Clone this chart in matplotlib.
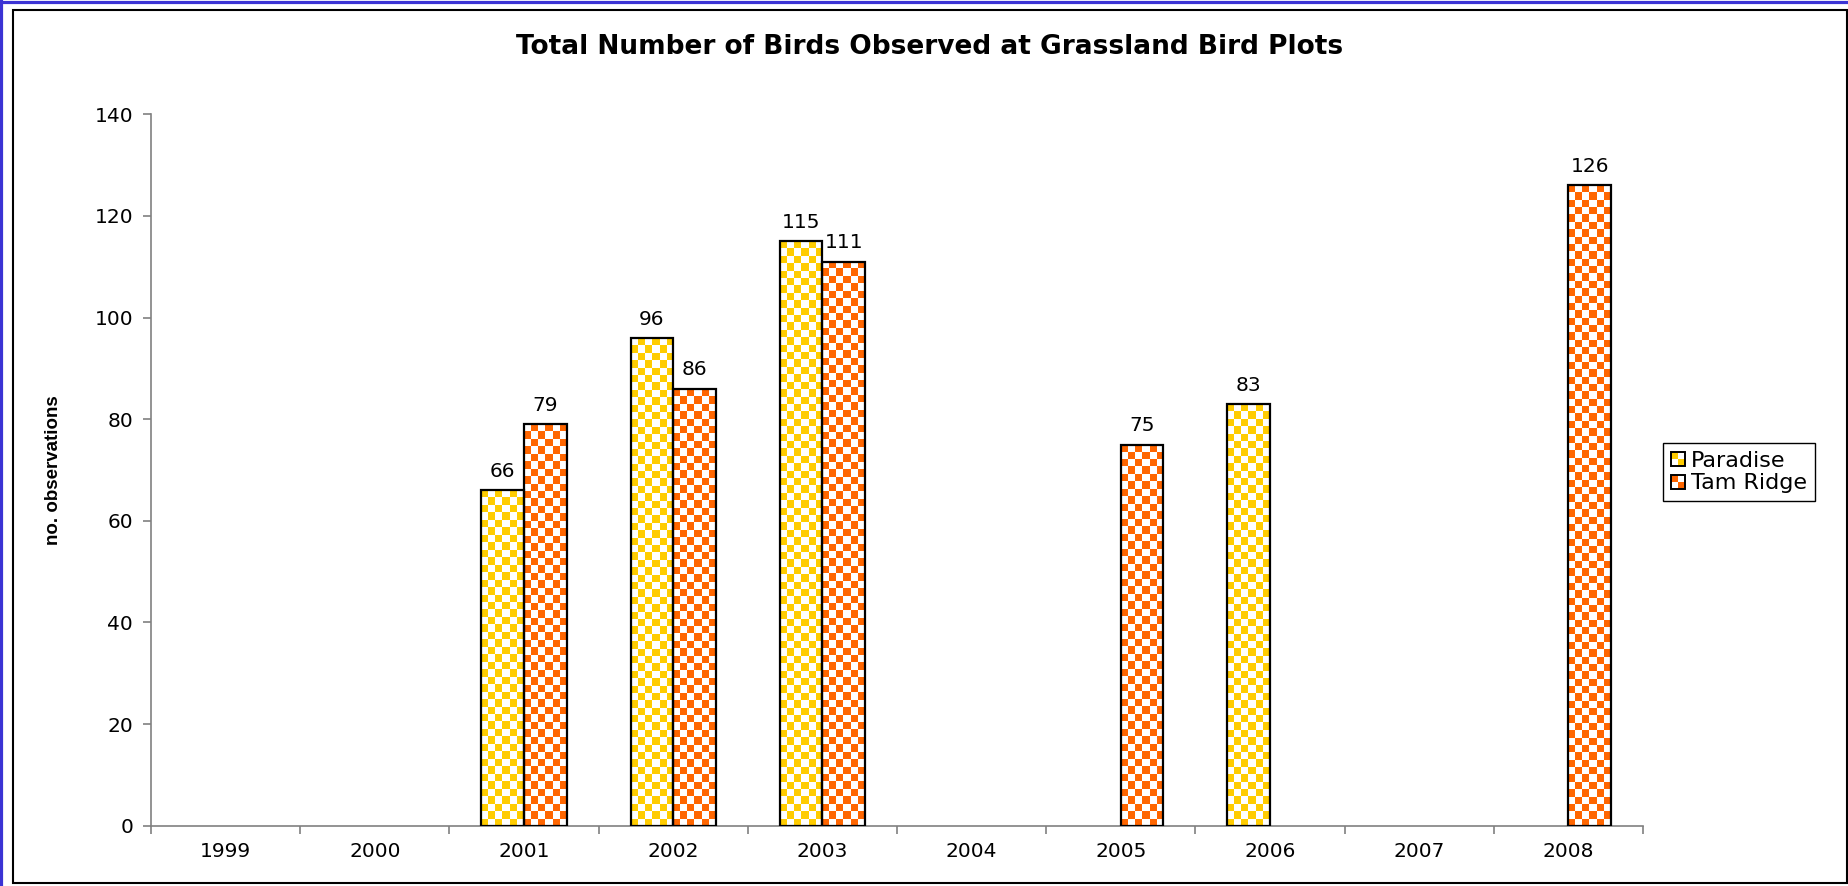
import matplotlib
matplotlib.use('Agg')
import matplotlib.pyplot as plt
import matplotlib.colors as mcolors
from matplotlib.patches import Rectangle
from matplotlib.lines import Line2D
from matplotlib.legend_handler import HandlerBase
import numpy as np

years = ['1999', '2000', '2001', '2002', '2003', '2004', '2005', '2006', '2007', '2008']
paradise = [None, None, 66, 96, 115, None, None, 83, None, None]
tam_ridge = [None, None, 79, 86, 111, None, 75, None, None, 126]

yellow = '#FFCC00'
orange = '#FF6600'

plt.rcParams['font.family'] = ['DejaVu Sans']
fs = 14.5

fig = plt.figure(figsize=(18.49, 8.86), dpi=100)
ax = fig.add_axes([0.0817, 0.0681, 0.8069, 0.8029])
ax.set_xlim(-0.5, 9.5)
ax.set_ylim(0, 140)

w = 1 / 3.5


def checker_bar(x, h, color):
    # outline drawn on top, checker image underneath
    ax.bar(x, h, w, facecolor='none', edgecolor='black', linewidth=1.6, zorder=3)
    p0 = ax.transData.transform((x - w / 2, 0))
    p1 = ax.transData.transform((x + w / 2, h))
    nx = max(1, int(round((p1[0] - p0[0]) / 7.4)))
    ny = max(1, int(round((p1[1] - p0[1]) / 7.4)))
    grid = np.add.outer(np.arange(ny), np.arange(nx)) % 2
    img = np.ones((ny, nx, 3))
    img[grid == 0] = mcolors.to_rgb(color)
    ax.imshow(img, extent=(x - w / 2, x + w / 2, 0, h), aspect='auto',
              interpolation='nearest', origin='lower', zorder=2)
    ax.annotate(str(h), (x, h), xytext=(0, 9.5), textcoords='offset points',
                ha='center', va='baseline', fontsize=fs)


for i in range(len(years)):
    if paradise[i] is not None:
        checker_bar(i - w / 2, paradise[i], yellow)
    if tam_ridge[i] is not None:
        checker_bar(i + w / 2, tam_ridge[i], orange)

ax.set_xlim(-0.5, 9.5)
ax.set_ylim(0, 140)
ax.set_aspect('auto')

ax.set_yticks(range(0, 141, 20))
ax.set_xticks(np.arange(-0.5, 10, 1))
ax.set_xticklabels([])
ax.set_xticks(np.arange(10), minor=True)
ax.set_xticklabels(years, minor=True)
ax.tick_params(axis='x', which='major', direction='out', length=6, color='#808080', width=1.2)
ax.tick_params(axis='x', which='minor', length=0, pad=12, labelsize=fs)
ax.tick_params(axis='y', direction='out', length=6, color='#808080', width=1.2, labelsize=fs, pad=7)

for s in ['top', 'right']:
    ax.spines[s].set_visible(False)
for s in ['left', 'bottom']:
    ax.spines[s].set_color('#808080')
    ax.spines[s].set_linewidth(1.2)

ax.set_ylabel('no. observations', fontsize=13.5, fontweight='bold', family='Liberation Sans')
ax.yaxis.set_label_coords(-0.0597, 0.5)

fig.text(0.503, 0.947, 'Total Number of Birds Observed at Grassland Bird Plots',
         ha='center', va='center', fontsize=19, fontweight='bold')


class CheckerHandler(HandlerBase):
    def __init__(self, color):
        super().__init__()
        self.color = color

    def create_artists(self, legend, orig_handle, xdescent, ydescent,
                       width, height, fontsize, trans):
        s = height
        x0 = -xdescent
        y0 = -ydescent
        arts = []
        for r in range(2):
            for c in range(2):
                fc = self.color if (r + c) % 2 == 0 else 'white'
                arts.append(Rectangle((x0 + c * s / 2, y0 + (1 - r) * s / 2), s / 2, s / 2,
                                      facecolor=fc, edgecolor='none', transform=trans))
        arts.append(Rectangle((x0, y0), s, s, facecolor='none', edgecolor='black',
                              linewidth=1.4, transform=trans))
        return arts


h1 = Rectangle((0, 0), 1, 1)
h2 = Rectangle((0, 0), 1, 1)
leg = fig.legend([h1, h2], ['Paradise', 'Tam Ridge'], loc='upper left',
                 bbox_to_anchor=(0.8994, 0.5), borderaxespad=0, fontsize=16,
                 handler_map={h1: CheckerHandler(yellow), h2: CheckerHandler(orange)},
                 handlelength=0.6, handleheight=0.6, handletextpad=0.3,
                 fancybox=False, framealpha=1, edgecolor='black',
                 labelspacing=0.12, borderpad=0.35)
leg.get_frame().set_linewidth(1.0)

# outer frame and blue border
fig.add_artist(Rectangle((13 / 1849, 3 / 886), 1834 / 1849, 873 / 886,
                         facecolor='none', edgecolor='black', linewidth=1.5,
                         transform=fig.transFigure))
fig.add_artist(Line2D([1.5 / 1849, 1.5 / 1849], [0, 1], color='#3B33D4',
                      linewidth=2.3, transform=fig.transFigure))
fig.add_artist(Line2D([0, 1], [1 - 1.5 / 886, 1 - 1.5 / 886], color='#3B33D4',
                      linewidth=2.3, transform=fig.transFigure))

fig.savefig('out.png', dpi=100)
